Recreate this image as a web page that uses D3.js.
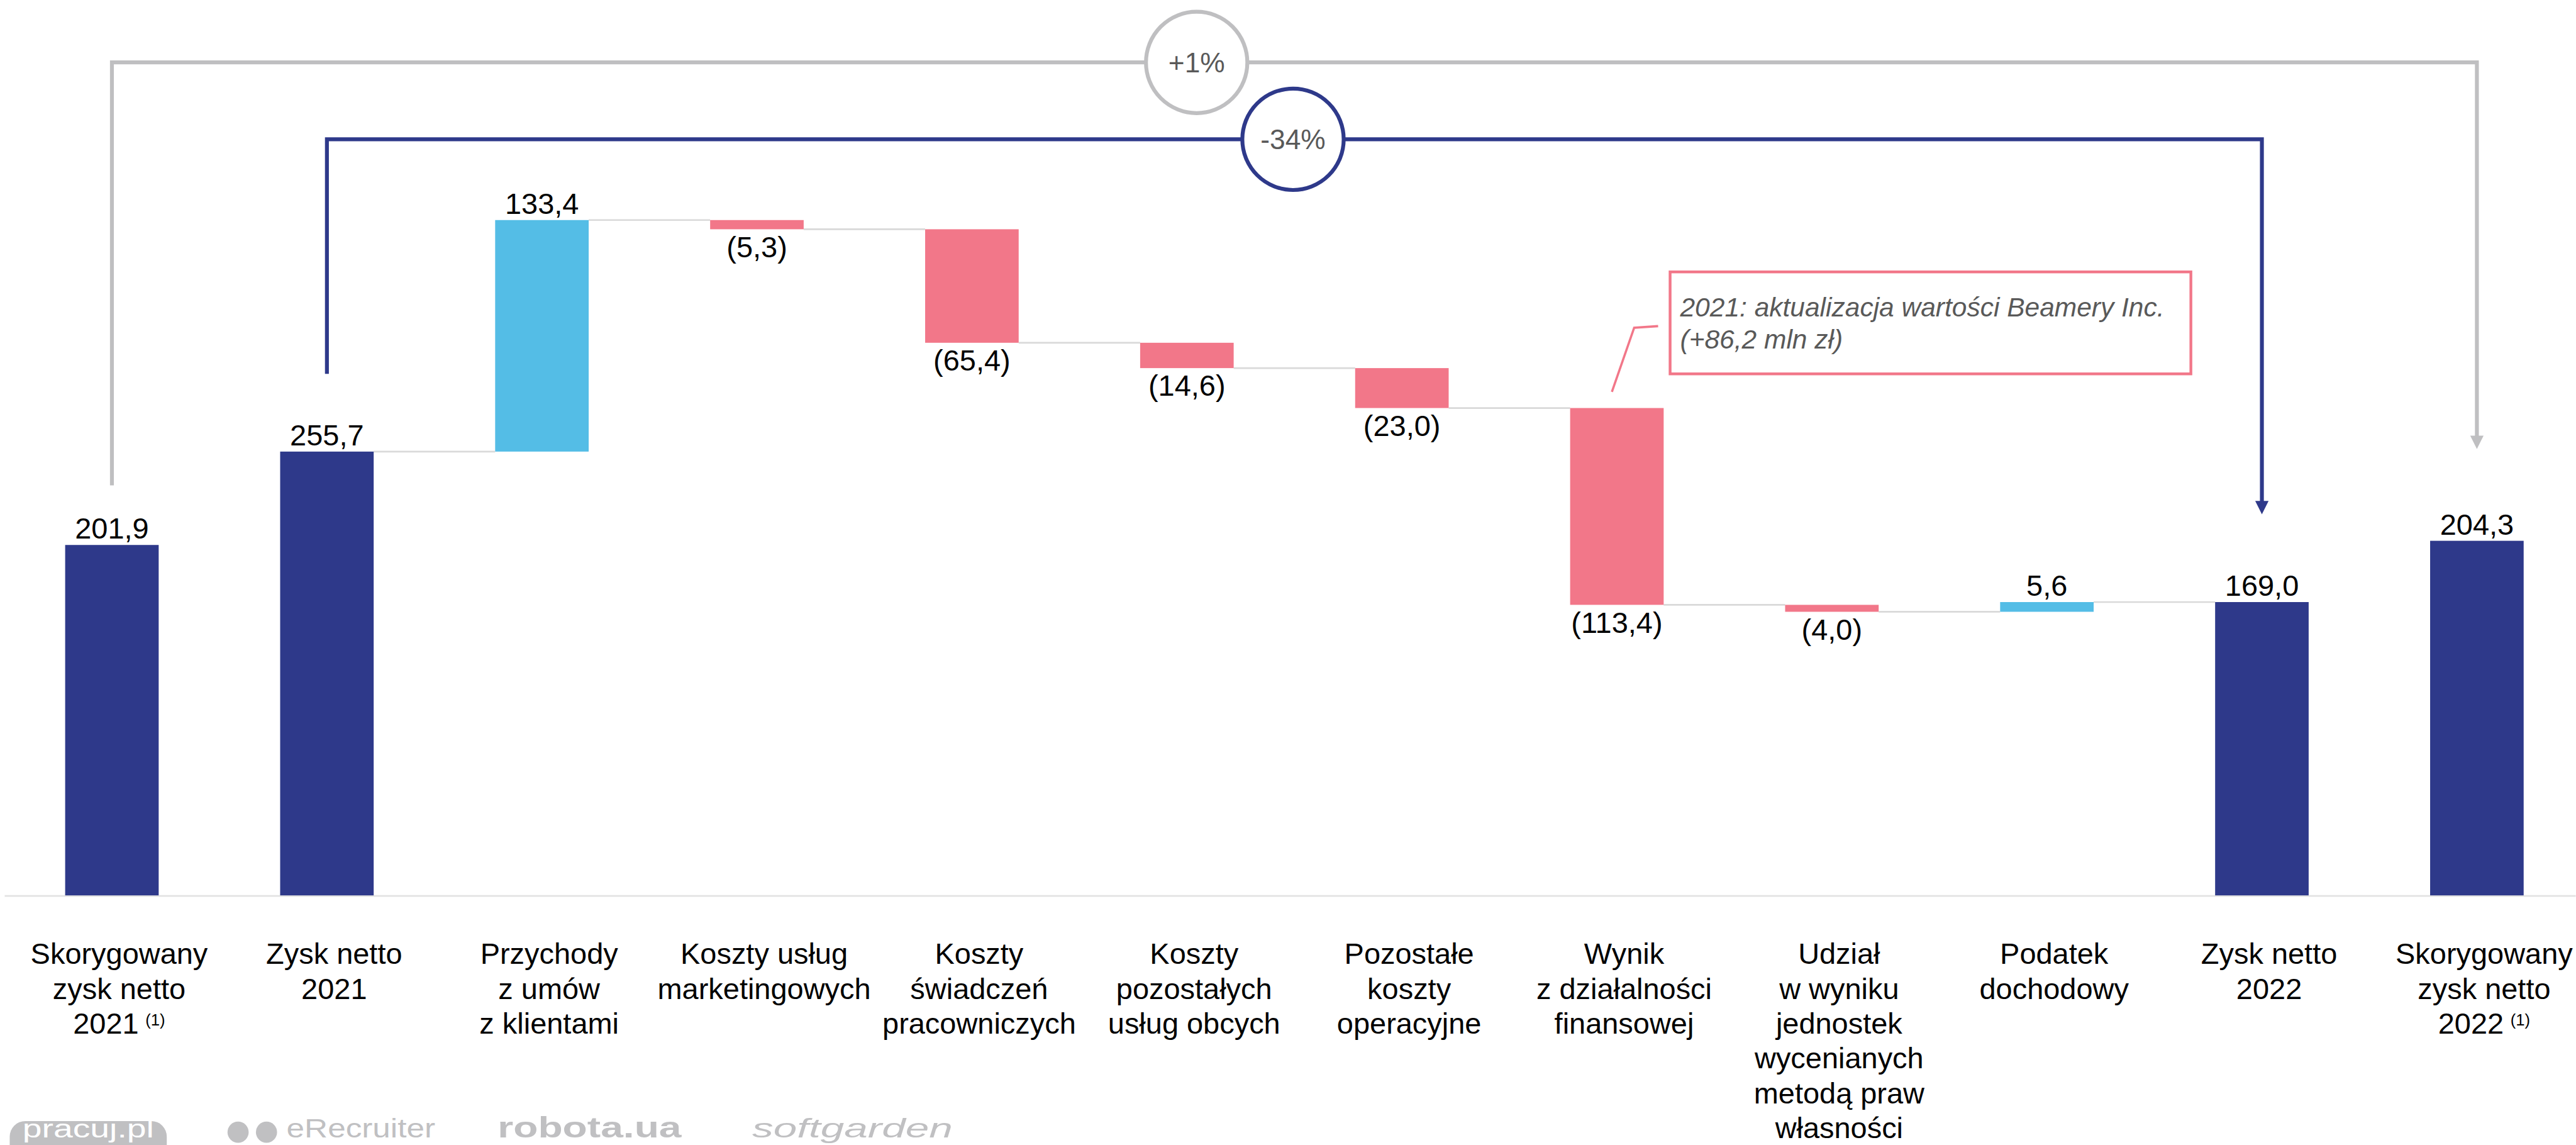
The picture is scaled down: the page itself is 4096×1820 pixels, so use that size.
<!DOCTYPE html>
<html><head><meta charset="utf-8">
<script src="https://cdn.jsdelivr.net/npm/d3@7"></script>
<style>html,body{margin:0;padding:0;background:#fff;overflow:hidden}</style>
</head><body>
<svg id="chart"></svg>
<script>
// ---------- data ----------
const categories = [
  "Skorygowany zysk netto 2021", "Zysk netto 2021", "Przychody z umów z klientami",
  "Koszty usług marketingowych", "Koszty świadczeń pracowniczych", "Koszty pozostałych usług obcych",
  "Pozostałe koszty operacyjne", "Wynik z działalności finansowej",
  "Udział w wyniku jednostek wycenianych metodą praw własności", "Podatek dochodowy",
  "Zysk netto 2022", "Skorygowany zysk netto 2022"
];
const categoryLines = [
  ["Skorygowany", "zysk netto", "2021"],
  ["Zysk netto", "2021"],
  ["Przychody", "z umów", "z klientami"],
  ["Koszty usług", "marketingowych"],
  ["Koszty", "świadczeń", "pracowniczych"],
  ["Koszty", "pozostałych", "usług obcych"],
  ["Pozostałe", "koszty", "operacyjne"],
  ["Wynik", "z działalności", "finansowej"],
  ["Udział", "w wyniku", "jednostek", "wycenianych", "metodą praw", "własności"],
  ["Podatek", "dochodowy"],
  ["Zysk netto", "2022"],
  ["Skorygowany", "zysk netto", "2022"]
];
const footnoteMarks = ["(1)", "", "", "", "", "", "", "", "", "", "", "(1)"];
const kinds = ["total", "total", "delta", "delta", "delta", "delta", "delta", "delta", "delta", "delta", "total", "total"];
const values = [201.9, 255.7, 133.4, -5.3, -65.4, -14.6, -23.0, -113.4, -4.0, 5.6, 169.0, 204.3];
const bracketLabels = ["+1%", "-34%"];
const bracketFrom = [0, 1];
const bracketTo = [11, 10];
const annotationLines = ["2021: aktualizacja wartości Beamery Inc.", "(+86,2 mln zł)"];
const annotationBar = 7;
const logos = ["pracuj.pl", "eRecruiter", "robota.ua", "softgarden"];

// ---------- setup ----------
const W = 4624, H = 2055;
const FONT = "'Liberation Sans', Arial, Helvetica, sans-serif";
const C = { total: "#2E398A", pos: "#54BDE6", neg: "#F27789", gray: "#BFBFC1", conn: "#D9D9D9", txt: "#000", sub: "#595959" };

const svg = d3.select("#chart")
  .attr("viewBox", `0 0 ${W} ${H}`)
  .attr("width", 4096).attr("height", 1820)
  .style("display", "block")
  .style("font-family", FONT);

const x = d3.scaleBand().domain(d3.range(categories.length))
  .range([7.5, 4639.5]).paddingInner(0.565).paddingOuter(0.2825);
const y = d3.scaleLinear().domain([0, 400]).range([1607, 361]);
const cx = i => x(i) + x.bandwidth() / 2;

// running totals
let run = 0;
const bars = values.map((v, i) => {
  let b;
  if (kinds[i] === "total") { b = { i, v, y0: 0, y1: v, kind: "total" }; run = v; }
  else { b = { i, v, y0: run, y1: run + v, kind: v >= 0 ? "pos" : "neg" }; run += v; }
  b.end = run;
  return b;
});

const fmt = v => {
  const s = d3.format(".1f")(Math.abs(v)).replace(".", ",");
  return v < 0 ? `(${s})` : s;
};

// baseline
svg.append("line").attr("x1", 8).attr("x2", W).attr("y1", y(0) + 1).attr("y2", y(0) + 1)
  .attr("stroke", "#E3E3E3").attr("stroke-width", 3);

// connectors
for (let i = 0; i < bars.length - 1; i++) {
  const a = bars[i], b = bars[i + 1];
  if (b.kind === "total" && a.kind === "total") continue;
  svg.append("line")
    .attr("x1", x(i) + x.bandwidth()).attr("x2", x(i + 1))
    .attr("y1", y(a.end)).attr("y2", y(a.end))
    .attr("stroke", C.conn).attr("stroke-width", 3);
}

// bars
svg.append("g").selectAll("rect").data(bars).join("rect")
  .attr("x", d => x(d.i)).attr("width", x.bandwidth())
  .attr("y", d => y(Math.max(d.y0, d.y1)))
  .attr("height", d => Math.abs(y(d.y0) - y(d.y1)))
  .attr("fill", d => C[d.kind]);

// value labels
svg.append("g").selectAll("text").data(bars).join("text")
  .attr("x", d => cx(d.i))
  .attr("y", d => d.v < 0 ? y(Math.min(d.y0, d.y1)) + 50 : y(Math.max(d.y0, d.y1)) - 11)
  .attr("text-anchor", "middle").attr("font-size", 53).attr("fill", C.txt)
  .text(d => fmt(d.v));

// category labels
const lab = svg.append("g").selectAll("text").data(categoryLines).join("text")
  .attr("text-anchor", "middle").attr("font-size", 53).attr("fill", C.txt);
lab.each(function (lines, i) {
  const t = d3.select(this);
  lines.forEach((ln, k) => {
    t.append("tspan").attr("x", cx(i) + 13).attr("y", 1730 + k * 62.5).text(ln);
    if (k === lines.length - 1 && footnoteMarks[i]) {
      t.append("tspan").attr("dx", 12).attr("dy", -14).attr("font-size", 29).text(footnoteMarks[i]);
    }
  });
});

// brackets
const bracketStyle = [
  { color: C.gray, top: 112, start: 871, tip: 806, circleX: 2148 },
  { color: C.total, top: 250, start: 671, tip: 923, circleX: 2321 }
];
bracketLabels.forEach((lbl, k) => {
  const s = bracketStyle[k];
  const xl = cx(bracketFrom[k]), xr = cx(bracketTo[k]);
  const g = svg.append("g");
  g.append("path")
    .attr("d", `M${xl},${s.start} V${s.top} H${xr} V${s.tip - 20}`)
    .attr("fill", "none").attr("stroke", s.color).attr("stroke-width", 7);
  g.append("path")
    .attr("d", `M${xr - 12},${s.tip - 24} L${xr + 12},${s.tip - 24} L${xr},${s.tip} Z`)
    .attr("fill", s.color);
  g.append("circle").attr("cx", s.circleX).attr("cy", s.top).attr("r", 91)
    .attr("fill", "#fff").attr("stroke", s.color).attr("stroke-width", 7);
  g.append("text").attr("x", s.circleX).attr("y", s.top + 18)
    .attr("text-anchor", "middle").attr("font-size", 50).attr("fill", C.sub).text(lbl);
});

// annotation
const ab = bars[annotationBar];
const ax = cx(annotationBar);
const aTop = y(Math.max(ab.y0, ab.y1));
svg.append("path")
  .attr("d", `M${ax - 9},${aTop - 29} L${ax + 31},${aTop - 144} L${ax + 74},${aTop - 147}`)
  .attr("fill", "none").attr("stroke", C.neg).attr("stroke-width", 4);
svg.append("rect").attr("x", 2998).attr("y", 488).attr("width", 935).attr("height", 183)
  .attr("fill", "#fff").attr("stroke", C.neg).attr("stroke-width", 5);
svg.append("text").attr("font-size", 48).attr("font-style", "italic").attr("fill", C.sub)
  .selectAll("tspan").data(annotationLines).join("tspan")
  .attr("x", 3016).attr("y", (d, k) => 568 + k * 57).text(d => d);

// logos (bottom strip)
const LG = "#C0C0C2";
const lg = svg.append("g");
lg.append("rect").attr("x", 17).attr("y", 2012).attr("width", 282).attr("height", 70).attr("rx", 28).attr("fill", LG);
lg.append("text").attr("x", 40).attr("y", 2041).attr("font-size", 46)
  .attr("textLength", 236).attr("lengthAdjust", "spacingAndGlyphs")
  .attr("fill", "#fff").text(logos[0]);
lg.append("circle").attr("cx", 427).attr("cy", 2032).attr("r", 19).attr("fill", LG);
lg.append("circle").attr("cx", 478).attr("cy", 2032).attr("r", 19).attr("fill", LG);
lg.append("text").attr("x", 514).attr("y", 2041).attr("font-size", 48)
  .attr("textLength", 267).attr("lengthAdjust", "spacingAndGlyphs")
  .attr("fill", LG).text(logos[1]);
lg.append("text").attr("x", 893).attr("y", 2041).attr("font-size", 52).attr("font-weight", "bold")
  .attr("textLength", 330).attr("lengthAdjust", "spacingAndGlyphs")
  .attr("fill", LG).text(logos[2]);
lg.append("text").attr("x", 1350).attr("y", 2041).attr("font-size", 48).attr("font-style", "italic")
  .attr("textLength", 360).attr("lengthAdjust", "spacingAndGlyphs")
  .attr("fill", LG).text(logos[3]);
</script>
</body></html>
